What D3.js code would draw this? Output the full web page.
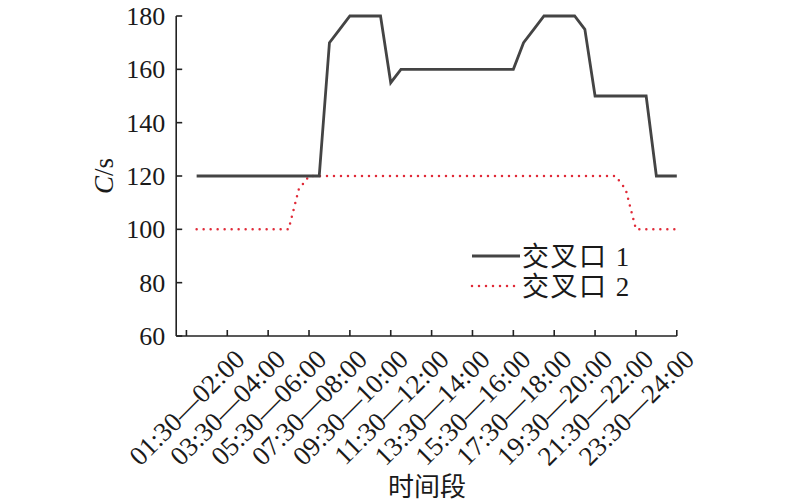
<!DOCTYPE html>
<html>
<head>
<meta charset="utf-8">
<script src="https://cdn.jsdelivr.net/npm/d3@7/dist/d3.min.js"></script>
<style>
  html, body { margin: 0; padding: 0; background: #fff; }
  svg { display: block; }
  text { font-family: "Liberation Serif", "Noto Sans CJK SC", serif; fill: #1a1a1a; }
</style>
</head>
<body>
<svg id="chart" width="800" height="502"></svg>
<script>
// ---- data (48 half-hour periods) ----
const tickLabels = ["01:30\u201402:00","03:30\u201404:00","05:30\u201406:00","07:30\u201408:00",
  "09:30\u201410:00","11:30\u201412:00","13:30\u201414:00","15:30\u201416:00",
  "17:30\u201418:00","19:30\u201420:00","21:30\u201422:00","23:30\u201424:00"];
const series1 = [120,120,120,120,120,120,120,120,120,120,120,120,120,170,175,180,
  180,180,180,155,160,160,160,160,160,160,160,160,160,160,160,160,
  170,175,180,180,180,180,175,150,150,150,150,150,150,120,120,120];
const series2 = [100,100,100,100,100,100,100,100,100,100,115,120,120,120,120,120,
  120,120,120,120,120,120,120,120,120,120,120,120,120,120,120,120,
  120,120,120,120,120,120,120,120,120,120,115,100,100,100,100,100];
const seriesNames = ["交叉口 1", "交叉口 2"];
const yTicks = [60, 80, 100, 120, 140, 160, 180];
const yTitle = "C/s";
const xTitle = "时间段";

const svg = d3.select("#chart");
const x = d3.scaleLinear().domain([-2, 47]).range([176.2, 676.8]);
const y = d3.scaleLinear().domain([60, 180]).range([336, 16]);
const axisColor = "#222";

// tick positions: one before first point, then every 4th point (labels)
const labelIdx = tickLabels.map((d, i) => 3 + 4 * i);
const tickIdx = [-1].concat(labelIdx);

// x axis line
svg.append("line").attr("x1", x(-2)).attr("x2", x(47)).attr("y1", y(60)).attr("y2", y(60))
  .attr("stroke", axisColor).attr("stroke-width", 1.6);
svg.append("g").selectAll("line").data(tickIdx).join("line")
  .attr("x1", d => x(d)).attr("x2", d => x(d))
  .attr("y1", y(60)).attr("y2", y(60) - 6)
  .attr("stroke", axisColor).attr("stroke-width", 1.6);

// y axis
svg.append("line").attr("x1", x(-2)).attr("x2", x(-2)).attr("y1", y(60)).attr("y2", y(180))
  .attr("stroke", axisColor).attr("stroke-width", 1.6);
svg.append("g").selectAll("line").data(yTicks).join("line")
  .attr("x1", x(-2)).attr("x2", x(-2) + 6)
  .attr("y1", d => y(d)).attr("y2", d => y(d))
  .attr("stroke", axisColor).attr("stroke-width", 1.6);
svg.append("g").selectAll("text").data(yTicks).join("text")
  .attr("x", x(-2) - 11).attr("y", d => y(d)).attr("dy", "0.35em")
  .attr("text-anchor", "end").attr("font-size", 26).text(d => d);

// x labels
svg.append("g").selectAll("text").data(tickLabels).join("text")
  .attr("transform", (d, i) => `translate(${x(labelIdx[i]) + 19},${y(60) + 25}) rotate(-45)`)
  .attr("text-anchor", "end").attr("font-size", 27).text(d => d);

// titles
const yt = svg.append("text")
  .attr("transform", `translate(${x(-2) - 73},${y(120)}) rotate(-90)`)
  .attr("text-anchor", "middle").attr("dy", "0.35em").attr("font-size", 27);
yt.append("tspan").attr("font-style", "italic").text(yTitle.slice(0, 1));
yt.append("tspan").text(yTitle.slice(1));
svg.append("text").attr("x", 427).attr("y", 496).attr("text-anchor", "middle")
  .attr("font-size", 26).attr("font-family", "Noto Sans CJK SC").text(xTitle);

// lines
const line = d3.line().x((d, i) => x(i)).y(d => y(d));
svg.append("path").datum(series2).attr("d", line).attr("fill", "none")
  .attr("stroke", "#e02a38").attr("stroke-width", 2.5)
  .attr("stroke-linecap", "round").attr("stroke-dasharray", "0,7");
svg.append("path").datum(series1).attr("d", line).attr("fill", "none")
  .attr("stroke", "#444").attr("stroke-width", 2.8).attr("stroke-linejoin", "miter");

// legend
const styles = [
  {stroke: "#444", width: 2.8, dash: null, cap: "butt"},
  {stroke: "#e02a38", width: 2.5, dash: "0,7", cap: "round"}
];
const lg = svg.append("g").attr("transform", "translate(472,256)");
seriesNames.forEach((name, i) => {
  const row = lg.append("g").attr("transform", `translate(0,${i * 30})`);
  row.append("line").attr("x1", 0).attr("x2", 48).attr("y1", 0).attr("y2", 0)
    .attr("stroke", styles[i].stroke).attr("stroke-width", styles[i].width)
    .attr("stroke-dasharray", styles[i].dash).attr("stroke-linecap", styles[i].cap);
  row.append("text").attr("x", 50).attr("y", 0).attr("dy", "0.36em")
    .attr("font-size", 27).attr("letter-spacing", 1.5).text(name);
});
</script>
</body>
</html>
